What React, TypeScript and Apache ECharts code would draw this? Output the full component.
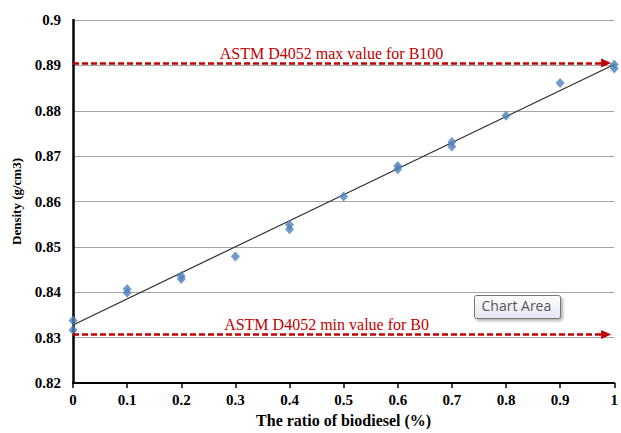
import React, { useEffect, useRef } from "react";
import * as echarts from "echarts";

const ratios = [0, 0, 0.1, 0.1, 0.2, 0.2, 0.3, 0.4, 0.4, 0.5, 0.6, 0.6, 0.7, 0.7, 0.8, 0.9, 1, 1];
const densities = [0.8338, 0.8317, 0.8407, 0.8399, 0.8436, 0.8429, 0.8479, 0.8549, 0.8539, 0.8611, 0.8678, 0.8671, 0.8731, 0.8721, 0.8789, 0.8861, 0.8902, 0.8893];
const trendX = [0, 1];
const trendY = [0.8328, 0.8902];
const maxLimit = { value: 0.8905, start: 0, end: 0.985, label: "ASTM D4052 max value for B100" };
const minLimit = { value: 0.8307, start: 0, end: 0.985, label: "ASTM D4052 min value for B0" };
const xTitle = "The ratio of biodiesel (%)";
const yTitle = "Density (g/cm3)";

export default function App() {
  const ref = useRef<HTMLDivElement>(null);
  useEffect(() => {
    if (!ref.current) return;
    const chart = echarts.init(ref.current, null, { renderer: "svg" });
    const serif = "'Liberation Serif', 'Times New Roman', serif";
    const red = "#c00000";
    const limitLine = (lim: typeof maxLimit, offX: number) => ({
      silent: true,
      symbol: ["none", "triangle"],
      symbolSize: [9, 10],
      lineStyle: { color: red, type: [6, 3], width: 2.5 },
      label: {
        show: true,
        position: "insideMiddleTop",
        formatter: lim.label,
        color: red,
        fontFamily: serif,
        fontSize: 16,
        distance: 2,
        offset: [offX, 0],
      },
      data: [[{ coord: [lim.start, lim.value] }, { coord: [lim.end, lim.value] }]],
    });
    chart.setOption({
      animation: false,
      backgroundColor: "#ffffff",
      grid: { left: 73, right: 6, top: 20, bottom: 45 },
      xAxis: {
        type: "value",
        min: 0,
        max: 1,
        interval: 0.1,
        name: xTitle,
        nameLocation: "middle",
        nameGap: 29,
        nameTextStyle: { fontFamily: serif, fontWeight: "bold", fontSize: 16, color: "#000" },
        axisLine: { show: true, lineStyle: { color: "#000", width: 2 } },
        axisTick: { show: true, length: 5, lineStyle: { color: "#000", width: 1.5 } },
        axisLabel: { fontFamily: serif, fontWeight: "bold", fontSize: 15, color: "#000", margin: 9 },
        splitLine: { show: false },
      },
      yAxis: {
        type: "value",
        min: 0.82,
        max: 0.9,
        interval: 0.01,
        name: yTitle,
        nameLocation: "middle",
        nameGap: 50,
        nameTextStyle: { fontFamily: serif, fontWeight: "bold", fontSize: 13, color: "#000" },
        axisLine: { show: true, lineStyle: { color: "#000", width: 2.5 } },
        axisTick: { show: false },
        axisLabel: {
          fontFamily: serif,
          fontWeight: "bold",
          fontSize: 15,
          color: "#000",
          margin: 12,
          formatter: (v: number) => String(parseFloat(v.toFixed(2))),
        },
        splitLine: { show: true, lineStyle: { color: "#a6a6a6", width: 1 } },
      },
      series: [
        {
          type: "line",
          data: trendX.map((x, i) => [x, trendY[i]]),
          symbol: "none",
          lineStyle: { color: "#2b2b2b", width: 1.2 },
          z: 3,
        },
        {
          type: "scatter",
          data: ratios.map((x, i) => [x, densities[i]]),
          symbol: "diamond",
          symbolSize: [9, 10],
          itemStyle: { color: "#4f81bd" },
          z: 4,
        },
        {
          type: "line",
          data: [],
          markLine: limitLine(maxLimit, -8),
        },
        {
          type: "line",
          data: [],
          markLine: limitLine(minLimit, -13),
        },
      ],
      graphic: [
        {
          type: "group",
          left: 474,
          top: 295,
          children: [
            {
              type: "rect",
              shape: { x: 0, y: 0, width: 86, height: 23, r: 2 },
              style: {
                fill: new echarts.graphic.LinearGradient(0, 0, 0, 1, [
                  { offset: 0, color: "#ffffff" },
                  { offset: 1, color: "#e4e5f0" },
                ]),
                stroke: "#767676",
                lineWidth: 1,
                shadowBlur: 3,
                shadowOffsetX: 2,
                shadowOffsetY: 2,
                shadowColor: "rgba(0,0,0,0.3)",
              },
            },
            {
              type: "text",
              x: 7,
              y: 3,
              style: {
                text: "Chart Area",
                fontFamily: "'Open Sans', 'DejaVu Sans', sans-serif",
                fontSize: 14,
                fill: "#575757",
              },
            },
          ],
        },
      ],
    });
    return () => chart.dispose();
  }, []);
  return <div ref={ref} style={{ position: "absolute", left: 0, top: 0, width: 621, height: 433 }} />;
}
